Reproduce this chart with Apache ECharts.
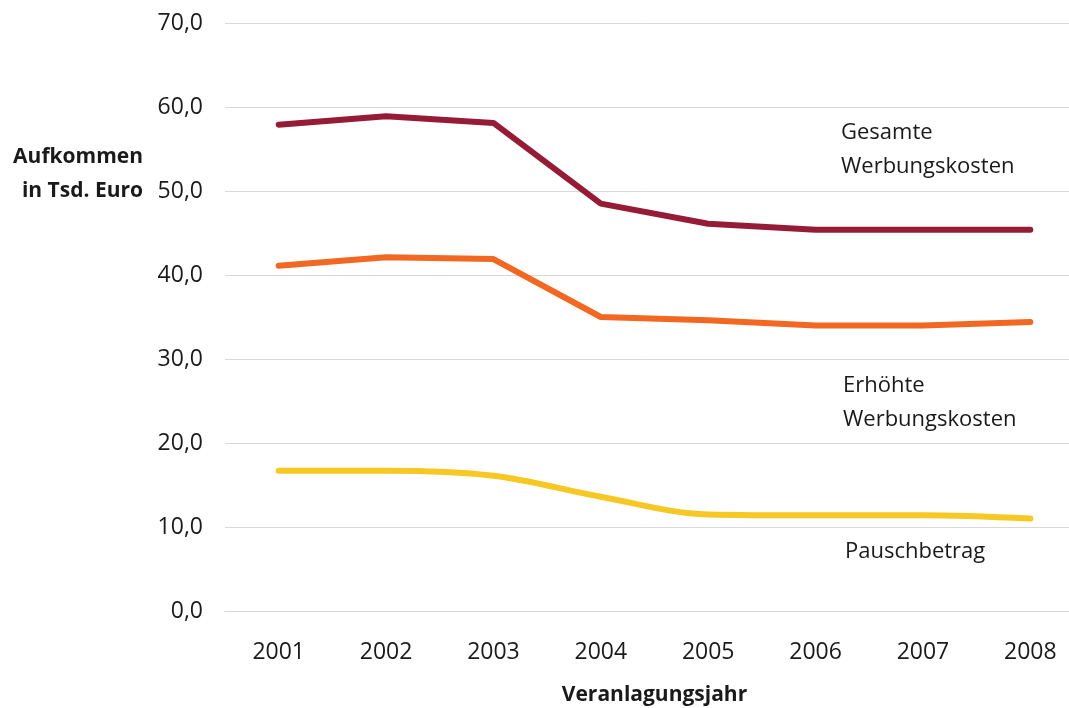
<!DOCTYPE html>
<html>
<head>
<meta charset="utf-8">
<script src="https://cdn.jsdelivr.net/npm/echarts@6/dist/echarts.min.js"></script>
<style>
html,body{margin:0;padding:0;background:#fff;}
#c{width:1069px;height:708px;}
</style>
</head>
<body>
<div id="c"></div>
<script>
const years = ['2001','2002','2003','2004','2005','2006','2007','2008'];
const gesamte = [57.9, 58.9, 58.1, 48.5, 46.1, 45.4, 45.4, 45.4];
const erhoehte = [41.1, 42.1, 41.9, 35.0, 34.6, 34.0, 34.0, 34.4];
const pausch = [16.7, 16.7, 16.1, 13.6, 11.5, 11.4, 11.4, 11.0];
const seriesNames = ['Gesamte\nWerbungskosten', 'Erhöhte\nWerbungskosten', 'Pauschbetrag'];
const yAxisTitle = 'Aufkommen\nin Tsd. Euro';
const xAxisTitle = 'Veranlagungsjahr';

const FONT = 'Open Sans';
const chart = echarts.init(document.getElementById('c'));
chart.setOption({
  animation: false,
  backgroundColor: '#fff',
  textStyle: {fontFamily: FONT},
  grid: {left: 225, right: -15, top: 23, bottom: 97, containLabel: false, outerBoundsMode: 'none'},
  xAxis: {
    type: 'category',
    data: years,
    boundaryGap: true,
    axisLine: {show: true, lineStyle: {color: '#d9d9d9', width: 1}},
    axisTick: {show: false},
    axisLabel: {color: '#1a1a1a', fontSize: 23, margin: 30, fontFamily: FONT},
    name: xAxisTitle,
    nameLocation: 'middle',
    nameGap: 74,
    nameTextStyle: {color: '#1a1a1a', fontSize: 21, fontWeight: 'bold', fontFamily: FONT}
  },
  yAxis: {
    type: 'value',
    min: 0, max: 70, interval: 10,
    axisLine: {show: false},
    axisTick: {show: false},
    splitLine: {lineStyle: {color: '#d9d9d9', width: 1}},
    axisLabel: {
      color: '#1a1a1a', fontSize: 23, margin: 22, fontFamily: FONT,
      formatter: v => v.toFixed(1).replace('.', ',')
    }
  },
  graphic: [
    {type: 'text', x: 143, y: 140, style: {text: yAxisTitle, font: 'bold 21px "' + FONT + '"', fill: '#1a1a1a', lineHeight: 34, align: 'right'}},
    {type: 'text', x: 841, y: 116, style: {text: seriesNames[0], font: '22px "' + FONT + '"', fill: '#1a1a1a', lineHeight: 34}},
    {type: 'text', x: 843, y: 369, style: {text: seriesNames[1], font: '22px "' + FONT + '"', fill: '#1a1a1a', lineHeight: 34}},
    {type: 'text', x: 845, y: 535, style: {text: seriesNames[2], font: '22px "' + FONT + '"', fill: '#1a1a1a', lineHeight: 34}}
  ],
  series: [
    {name: seriesNames[0], type: 'line', data: gesamte, symbol: 'none', lineStyle: {color: '#951b37', width: 6, cap: 'round', join: 'round'}},
    {name: seriesNames[1], type: 'line', data: erhoehte, symbol: 'none', lineStyle: {color: '#f26722', width: 6, cap: 'round', join: 'round'}},
    {name: seriesNames[2], type: 'line', data: pausch, symbol: 'none', smooth: 0.35, lineStyle: {color: '#f7c724', width: 6, cap: 'round', join: 'round'}}
  ]
});
</script>
</body>
</html>
